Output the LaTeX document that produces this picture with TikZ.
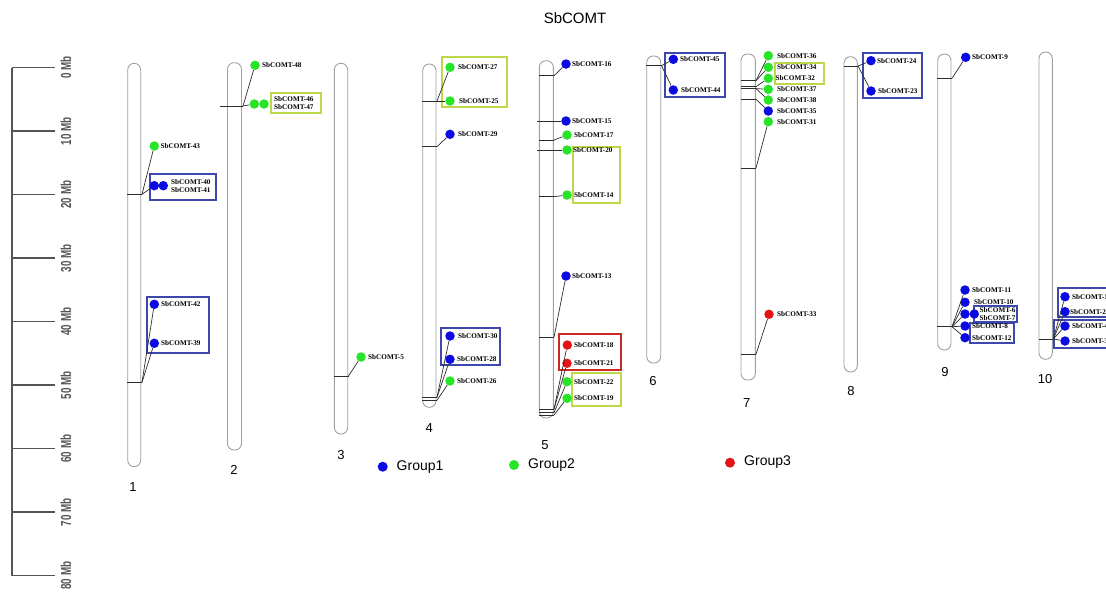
\documentclass[tikz,border=0pt]{standalone}
\usepackage{fontspec}
\setmainfont{Liberation Serif}
\setsansfont{Liberation Sans}
\usetikzlibrary{calc}

\definecolor{gA}{RGB}{10,10,225}
\definecolor{gB}{RGB}{40,228,40}
\definecolor{gC}{RGB}{228,20,20}
\definecolor{boxA}{RGB}{60,72,172}
\definecolor{boxB}{RGB}{186,216,72}
\definecolor{boxC}{RGB}{205,40,40}
\definecolor{tube}{RGB}{160,160,160}
\definecolor{ink}{RGB}{45,45,45}
\definecolor{axis}{RGB}{85,85,85}

% chromosome: name, centre x, width, height, centre y
\newcommand\chrom[5]{\node[chrom,minimum width=#3pt,minimum height=#4pt] (#1) at (#2,#5) {};}
% marker line across a chromosome: name, chromosome, right end x, y
\newcommand\mk[4]{\coordinate (#1) at (#3,#4); \draw[mkline] (#2.west |- #1) -- (#1);}
% gene dot: style, id, x, y
\newcommand\gdot[4]{\node[#1] (g#2) at (#3,#4) {};}
% gene label: id, x, y
\newcommand\glabel[3]{\node[glab] (l#1) at (#2,#3) {SbCOMT-#1};}

\begin{document}
\begin{tikzpicture}[x=1pt,y=-1pt,
  chrom/.style={draw=tube,line width=0.9pt,fill=white,rounded corners=6.5pt,inner sep=0pt},
  mkline/.style={ink,line width=0.7pt},
  link/.style={ink,line width=0.7pt},
  gene/.style={circle,inner sep=0pt,minimum size=9.5pt},
  g1/.style={gene,fill=gA},
  g2/.style={gene,fill=gB},
  g3/.style={gene,fill=gC},
  glab/.style={anchor=west,inner sep=0pt,font=\bfseries\fontsize{7.2}{7.4}\selectfont},
  bbox/.style={draw=boxA,line width=2pt},
  gbox/.style={draw=boxB,line width=2pt},
  rbox/.style={draw=boxC,line width=2pt},
  num/.style={font=\sffamily\fontsize{13}{13}\selectfont,inner sep=0pt},
  leg/.style={anchor=west,inner sep=0pt,font=\sffamily\fontsize{14}{14}\selectfont},
  axisline/.style={axis,line width=1.5pt},
  axislab/.style={rotate=90,inner sep=0pt,text=axis,font=\sffamily\bfseries\fontsize{14.5}{14.5}\selectfont}
]
\useasboundingbox (0,0) rectangle (1106,592);
\clip (0,0) rectangle (1106,592);

% title
\node[font=\sffamily\fontsize{15}{15}\selectfont,inner sep=0pt] (title) at (575,18) {SbCOMT};

% physical scale
\coordinate (s0) at (12,67.7);
\coordinate (s8) at (12,576);
\draw[axisline] (s0) -- (s8);
\foreach \k in {0,...,8}{
  \pgfmathsetmacro\yy{67.7+63.5*\k}
  \pgfmathtruncatemacro\mb{10*\k}
  \draw[axisline] (12,\yy) -- (55,\yy);
  \node[axislab] at (66,\yy) {\scalebox{0.68}[1]{\mb\ Mb}};
}

% chromosomes
\chrom{c1}{134.2}{13}{403.4}{265}
\chrom{c2}{234.5}{14}{387.3}{256.35}
\chrom{c3}{341}{13.4}{370.7}{248.65}
\chrom{c4}{429.35}{13.3}{343.3}{235.65}
\chrom{c5}{546.3}{14}{357.3}{239.35}
\chrom{c6}{653.7}{14}{307}{209.5}
\chrom{c7}{748.15}{14.3}{326}{217}
\chrom{c8}{850.65}{13.3}{315.3}{214.35}
\chrom{c9}{944.35}{13.3}{296}{202}
\chrom{c10}{1045.65}{13.3}{307.3}{205.65}

\node[num] (n1) at (133,487) {1};
\node[num] (n2) at (234,470) {2};
\node[num] (n3) at (341,455) {3};
\node[num] (n4) at (429.3,428.3) {4};
\node[num] (n5) at (545,445) {5};
\node[num] (n6) at (653,381) {6};
\node[num] (n7) at (746.7,402.7) {7};
\node[num] (n8) at (851,391) {8};
\node[num] (n9) at (945,372) {9};
\node[num] (n10) at (1045,379.3) {10};

% gene group boxes
\draw[bbox] (150,174) rectangle (216,200);
\draw[bbox] (146.7,296.7) rectangle (209.3,353.3);
\draw[gbox] (271,93.3) rectangle (320.7,112.7);
\draw[gbox] (441.7,57.3) rectangle (506.7,106.7);
\draw[bbox] (440.7,327.7) rectangle (500,365);
\draw[gbox] (572.7,146.7) rectangle (620,203.3);
\draw[rbox] (559,334) rectangle (620.7,370);
\draw[gbox] (571.7,372.7) rectangle (620.7,406);
\draw[bbox] (665.3,53.3) rectangle (725.3,96.7);
\draw[gbox] (775,62.7) rectangle (824.3,84);
\draw[bbox] (862.7,52.7) rectangle (922,98.3);
\draw[bbox] (974,305.7) rectangle (1016.7,321.7);
\draw[bbox] (970,322.7) rectangle (1014,343.3);
\draw[bbox] (1058.3,288.3) rectangle (1120,317.3);
\draw[bbox] (1054,320) rectangle (1120,347.7);

% chromosome 1
\mk{k1a}{c1}{142}{194.3}
\mk{k1b}{c1}{142}{382.3}
\gdot{g2}{43}{154.3}{146}
\gdot{g1}{40}{154.3}{185.7}
\gdot{g1}{41}{163.3}{185.7}
\gdot{g1}{42}{154.3}{304.3}
\gdot{g1}{39}{154.3}{343.3}
\draw[link] (k1a) -- (g43);
\draw[link] (k1a) -- (g40);
\draw[link] (k1b) -- (g42);
\draw[link] (k1b) -- (g39);
\glabel{43}{160.5}{146}
\glabel{40}{171}{181.6}
\glabel{41}{171}{189.6}
\glabel{42}{161}{304.3}
\glabel{39}{161}{343.3}

% chromosome 2
\coordinate (k2a) at (243,106);
\draw[mkline] (220,106) -- (k2a);
\gdot{g2}{48}{255}{65.3}
\gdot{g2}{46}{254.3}{104}
\gdot{g2}{47}{264}{104}
\draw[link] (k2a) -- (g48);
\draw[link] (k2a) -- (g46);
\glabel{48}{262}{65.3}
\glabel{46}{274}{99}
\glabel{47}{274}{107}

% chromosome 3
\mk{k3a}{c3}{348.5}{376}
\gdot{g2}{5}{361}{357}
\draw[link] (k3a) -- (g5);
\glabel{5}{368}{357}

% chromosome 4
\mk{k4a}{c4}{437}{101}
\mk{k4b}{c4}{437}{146.7}
\mk{k4c}{c4}{437}{397.3}
\mk{k4d}{c4}{437}{400.3}
\gdot{g2}{27}{450}{67.3}
\gdot{g2}{25}{450}{101}
\gdot{g1}{29}{450}{134.3}
\gdot{g1}{30}{450}{336}
\gdot{g1}{28}{450}{359.3}
\gdot{g2}{26}{450}{381}
\draw[link] (k4a) -- (g27);
\draw[link] (k4a) -- (g25);
\draw[link] (k4b) -- (g29);
\draw[link] (k4c) -- (g30);
\draw[link] (k4c) -- (g28);
\draw[link] (k4d) -- (g26);
\glabel{27}{458}{67.3}
\glabel{25}{459}{101}
\glabel{29}{458}{134.3}
\glabel{30}{458}{336}
\glabel{28}{457}{359.3}
\glabel{26}{457}{381}

% chromosome 5
\mk{k5a}{c5}{554}{75.7}
\coordinate (k5b) at (554,121);
\draw[mkline] (537.3,121) -- (k5b);
\mk{k5c}{c5}{554}{140}
\coordinate (k5d) at (554,150);
\draw[mkline] (537.3,150) -- (k5d);
\mk{k5e}{c5}{554}{196.7}
\mk{k5f}{c5}{554}{337.3}
\mk{k5g}{c5}{554}{409.3}
\mk{k5h}{c5}{554}{412.7}
\mk{k5i}{c5}{554}{415}
\gdot{g1}{16}{566}{64}
\gdot{g1}{15}{566}{121}
\gdot{g2}{17}{567}{135}
\gdot{g2}{20}{567}{150}
\gdot{g2}{14}{567}{195}
\gdot{g1}{13}{566}{276}
\gdot{g3}{18}{567.3}{345}
\gdot{g3}{21}{567}{363.3}
\gdot{g2}{22}{567}{381.7}
\gdot{g2}{19}{567}{398.3}
\draw[link] (k5a) -- (g16);
\draw[link] (k5b) -- (g15);
\draw[link] (k5c) -- (g17);
\draw[link] (k5d) -- (g20);
\draw[link] (k5e) -- (g14);
\draw[link] (k5f) -- (g13);
\draw[link] (k5g) -- (g18);
\draw[link] (k5g) -- (g21);
\draw[link] (k5h) -- (g22);
\draw[link] (k5i) -- (g19);
\glabel{16}{572}{64}
\glabel{15}{572}{121}
\glabel{17}{574}{135}
\glabel{20}{573}{150}
\glabel{14}{574}{195}
\glabel{13}{572}{276}
\glabel{18}{574}{345}
\glabel{21}{574}{363.3}
\glabel{22}{574}{381.7}
\glabel{19}{574}{398.3}

% chromosome 6
\mk{k6a}{c6}{661.5}{65.7}
\gdot{g1}{45}{673.3}{59.3}
\gdot{g1}{44}{673.3}{90}
\draw[link] (k6a) -- (g45);
\draw[link] (k6a) -- (g44);
\glabel{45}{680}{59.3}
\glabel{44}{681}{90}

% chromosome 7
\mk{k7a}{c7}{756}{80.7}
\mk{k7b}{c7}{756}{86.7}
\mk{k7c}{c7}{756}{88.6}
\mk{k7d}{c7}{756}{99.3}
\mk{k7e}{c7}{756}{168}
\mk{k7f}{c7}{756}{354.3}
\gdot{g2}{36}{768.3}{55.7}
\gdot{g2}{34}{768.3}{67.3}
\gdot{g2}{32}{768.3}{78.3}
\gdot{g2}{37}{768.3}{89.3}
\gdot{g2}{38}{768.3}{100}
\gdot{g1}{35}{768.3}{111}
\gdot{g2}{31}{768.3}{121.7}
\gdot{g3}{33}{769}{314.3}
\draw[link] (k7a) -- (g36);
\draw[link] (k7a) -- (g34);
\draw[link] (k7b) -- (g32);
\draw[link] (k7c) -- (g37);
\draw[link] (k7c) -- (g38);
\draw[link] (k7d) -- (g35);
\draw[link] (k7e) -- (g31);
\draw[link] (k7f) -- (g33);
\glabel{36}{777}{55.7}
\glabel{34}{777}{67.3}
\glabel{32}{775.5}{78.3}
\glabel{37}{777}{89.3}
\glabel{38}{777}{100}
\glabel{35}{777}{111}
\glabel{31}{777}{121.7}
\glabel{33}{777}{314.3}

% chromosome 8
\mk{k8a}{c8}{858}{66}
\gdot{g1}{24}{871}{60.7}
\gdot{g1}{23}{871}{91}
\draw[link] (k8a) -- (g24);
\draw[link] (k8a) -- (g23);
\glabel{24}{877}{60.7}
\glabel{23}{878}{91}

% chromosome 9
\mk{k9a}{c9}{952}{78.3}
\mk{k9b}{c9}{952}{326.7}
\gdot{g1}{9}{965.7}{57.3}
\gdot{g1}{11}{965}{290}
\gdot{g1}{10}{965}{302.3}
\gdot{g1}{6}{965}{314}
\gdot{g1}{7}{974.3}{314}
\gdot{g1}{8}{965}{326}
\gdot{g1}{12}{965}{337.7}
\draw[link] (k9a) -- (g9);
\draw[link] (k9b) -- (g11);
\draw[link] (k9b) -- (g10);
\draw[link] (k9b) -- (g6);
\draw[link] (k9b) -- (g8);
\draw[link] (k9b) -- (g12);
\glabel{9}{972}{57.3}
\glabel{11}{972}{290}
\glabel{10}{974}{302.3}
\glabel{6}{979.5}{310}
\glabel{7}{979.5}{317.6}
\glabel{8}{972}{326}
\glabel{12}{972}{338}

% chromosome 10
\mk{k10a}{c10}{1053.3}{339}
\gdot{g1}{1}{1065}{296.7}
\gdot{g1}{2}{1065}{311.7}
\gdot{g1}{4}{1065}{326}
\gdot{g1}{3}{1065}{341}
\draw[link] (k10a) -- (g1);
\draw[link] (k10a) -- (g2);
\draw[link] (k10a) -- (g4);
\draw[link] (k10a) -- (g3);
\glabel{1}{1072}{296.7}
\glabel{2}{1070}{311.7}
\glabel{4}{1072}{326}
\glabel{3}{1072}{341}

% legend
\node[g1,minimum size=10pt] (d1) at (382.7,466.7) {};
\node[leg] (t1) at (396.5,467.5) {Group1};
\node[g2,minimum size=10pt] (d2) at (514,465) {};
\node[leg] (t2) at (528,465) {Group2};
\node[g3,minimum size=10pt] (d3) at (730,462.7) {};
\node[leg] (t3) at (744,462.5) {Group3};
\end{tikzpicture}
\end{document}
